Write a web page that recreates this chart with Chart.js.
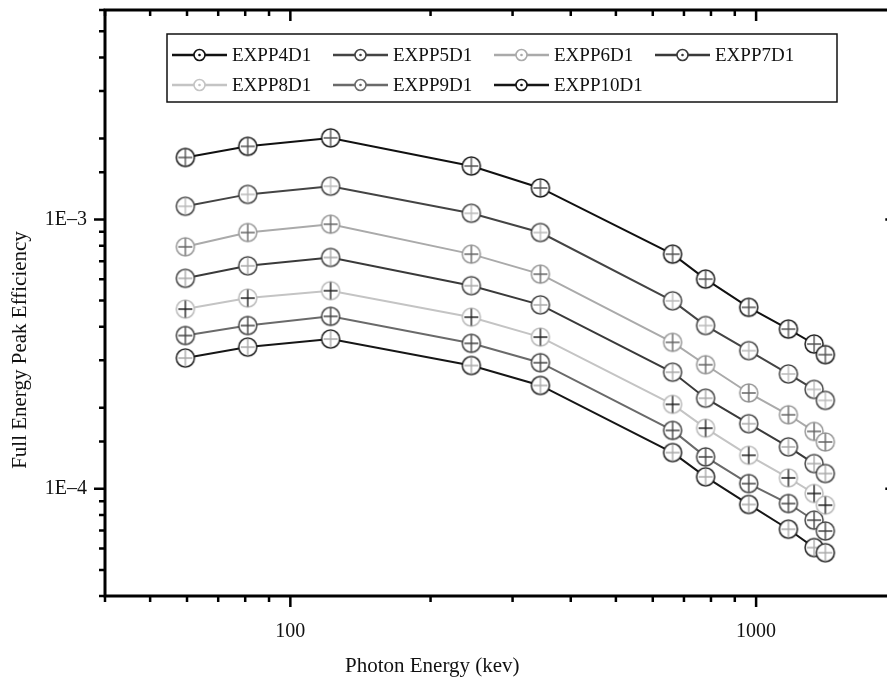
<!DOCTYPE html>
<html>
<head>
<meta charset="utf-8">
<script src="https://cdn.jsdelivr.net/npm/chart.js@4/dist/chart.umd.min.js"></script>
<style>
  html, body { margin: 0; padding: 0; background: #fff; overflow: hidden; }
  #wrap { width: 887px; height: 678px; }
</style>
</head>
<body>
<div id="wrap"><canvas id="myChart" width="887" height="678"></canvas></div>
<script>
/* photon energies (keV) */
let energy = [59.5, 81, 122, 244.7, 344.3, 661.7, 779, 964, 1173, 1332, 1408];

/* full energy peak efficiency, one array per detector position */
let EXPP4D1 = [1.70e-3, 1.87e-3, 2.01e-3, 1.58e-3, 1.31e-3, 7.44e-4, 6.01e-4, 4.72e-4, 3.92e-4, 3.45e-4, 3.15e-4];
let EXPP5D1 = [1.12e-3, 1.24e-3, 1.33e-3, 1.055e-3, 8.95e-4, 4.99e-4, 4.04e-4, 3.26e-4, 2.67e-4, 2.34e-4, 2.13e-4];
let EXPP6D1 = [7.92e-4, 8.95e-4, 9.61e-4, 7.44e-4, 6.27e-4, 3.50e-4, 2.89e-4, 2.27e-4, 1.884e-4, 1.634e-4, 1.493e-4];
let EXPP7D1 = [6.05e-4, 6.73e-4, 7.23e-4, 5.68e-4, 4.82e-4, 2.71e-4, 2.17e-4, 1.745e-4, 1.431e-4, 1.241e-4, 1.14e-4];
let EXPP8D1 = [4.65e-4, 5.11e-4, 5.44e-4, 4.34e-4, 3.66e-4, 2.06e-4, 1.68e-4, 1.332e-4, 1.098e-4, 9.61e-5, 8.70e-5];
let EXPP9D1 = [3.71e-4, 4.04e-4, 4.37e-4, 3.47e-4, 2.94e-4, 1.648e-4, 1.314e-4, 1.046e-4, 8.82e-5, 7.65e-5, 6.97e-5];
let EXPP10D1 = [3.06e-4, 3.36e-4, 3.60e-4, 2.87e-4, 2.42e-4, 1.363e-4, 1.108e-4, 8.75e-5, 7.08e-5, 6.05e-5, 5.79e-5];

let names = ['EXPP4D1', 'EXPP5D1', 'EXPP6D1', 'EXPP7D1', 'EXPP8D1', 'EXPP9D1', 'EXPP10D1'];
let values = [EXPP4D1, EXPP5D1, EXPP6D1, EXPP7D1, EXPP8D1, EXPP9D1, EXPP10D1];

/* line colour, circle colour, cross colour */
let lineColors = ['#111111', '#444444', '#aaaaaa', '#3a3a3a', '#c4c4c4', '#6a6a6a', '#161616'];
let ringColors = ['#1a1a1a', '#444444', '#999999', '#444444', '#bbbbbb', '#444444', '#222222'];
let crossColors = ['#555555', '#bbbbbb', '#666666', '#aaaaaa', '#222222', '#444444', '#aaaaaa'];

var FONT = "'Liberation Serif', 'Times New Roman', serif";

function marker(ring, cross) {
  var c = document.createElement('canvas');
  c.width = 22;
  c.height = 22;
  var g = c.getContext('2d');
  g.beginPath();
  g.arc(11, 11, 9, 0, Math.PI * 2);
  g.fillStyle = '#fff';
  g.fill();
  g.lineWidth = 1.5;
  g.strokeStyle = ring;
  g.stroke();
  g.beginPath();
  g.moveTo(11, 2.5);
  g.lineTo(11, 19.5);
  g.moveTo(4, 11);
  g.lineTo(18, 11);
  g.lineWidth = 1.4;
  g.strokeStyle = cross;
  g.stroke();
  return c;
}

function isDecade(v) {
  var e = Math.log10(v);
  return Math.abs(e - Math.round(e)) < 1e-6;
}

// 1..9 times a power of ten
function isNice(v) {
  var m = v / Math.pow(10, Math.floor(Math.log10(v) + 1e-9));
  return Math.abs(m - Math.round(m)) < 1e-6;
}

let datasets = names.map(function (n, i) {
  return {
    label: n,
    data: energy.map(function (e, j) { return { x: e, y: values[i][j] }; }),
    borderColor: lineColors[i],
    borderWidth: 2,
    tension: 0,
    pointStyle: marker(ringColors[i], crossColors[i]),
    pointRadius: 9,
  };
});

/* frame, ticks, boxed legend and axis titles */
var decorations = {
  id: 'decorations',
  afterDatasetsDraw: function (chart) {
    var ctx = chart.ctx;
    var a = chart.chartArea;
    var x = chart.scales.x;
    var y = chart.scales.y;
    // the right side of the frame sits just past the picture edge
    var rx = x.getPixelForValue(2000);
    ctx.save();

    ctx.strokeStyle = '#000';
    ctx.lineWidth = 3;
    ctx.beginPath();
    ctx.moveTo(rx, a.top);
    ctx.lineTo(a.left, a.top);
    ctx.lineTo(a.left, a.bottom);
    ctx.lineTo(rx, a.bottom);
    ctx.lineTo(rx, a.top);
    ctx.stroke();

    ctx.lineWidth = 2.5;
    ctx.beginPath();
    x.ticks.forEach(function (t) {
      if (!isNice(t.value)) return;
      var px = x.getPixelForValue(t.value);
      var len = isDecade(t.value) ? 11 : 6;
      ctx.moveTo(px, a.bottom);
      ctx.lineTo(px, a.bottom + len);
      ctx.moveTo(px, a.top);
      ctx.lineTo(px, a.top + len);
    });
    y.ticks.forEach(function (t) {
      var py = y.getPixelForValue(t.value);
      var len = isDecade(t.value) ? 11 : 6;
      ctx.moveTo(a.left - len, py);
      ctx.lineTo(a.left, py);
      ctx.moveTo(rx - len, py);
      ctx.lineTo(rx, py);
    });
    ctx.stroke();

    // legend box
    var bx = 167, by = 34, bw = 670, bh = 68;
    ctx.fillStyle = '#fff';
    ctx.fillRect(bx, by, bw, bh);
    ctx.lineWidth = 1.5;
    ctx.strokeStyle = '#111';
    ctx.strokeRect(bx, by, bw, bh);
    ctx.font = '19px ' + FONT;
    ctx.textBaseline = 'middle';
    ctx.textAlign = 'left';
    chart.data.datasets.forEach(function (ds, i) {
      var sx = 172 + (i % 4) * 161;
      var sy = i < 4 ? 55 : 85;
      ctx.beginPath();
      ctx.moveTo(sx, sy);
      ctx.lineTo(sx + 55, sy);
      ctx.lineWidth = 2.5;
      ctx.strokeStyle = lineColors[i];
      ctx.stroke();
      ctx.beginPath();
      ctx.arc(sx + 27.5, sy, 5.5, 0, Math.PI * 2);
      ctx.fillStyle = '#fff';
      ctx.fill();
      ctx.lineWidth = 1.6;
      ctx.stroke();
      ctx.beginPath();
      ctx.arc(sx + 27.5, sy, 1.3, 0, Math.PI * 2);
      ctx.fillStyle = lineColors[i];
      ctx.fill();
      ctx.fillStyle = '#111';
      ctx.fillText(ds.label, sx + 60, sy + 1);
    });

    // axis titles
    ctx.font = '21px ' + FONT;
    ctx.fillStyle = '#111';
    ctx.fillText('Photon Energy (kev)', 345, 666);
    ctx.translate(20, 350);
    ctx.rotate(-Math.PI / 2);
    ctx.textAlign = 'center';
    ctx.fillText('Full Energy Peak Efficiency', 0, 0);
    ctx.restore();
  },
};

var ctx = document.getElementById('myChart');

var myChart = new Chart(ctx, {
  type: 'line',
  data: { datasets: datasets },
  options: {
    responsive: false,
    animation: false,
    devicePixelRatio: 1,
    layout: { autoPadding: false, padding: { left: 0, top: 10, right: 0, bottom: 0 } },
    plugins: {
      legend: { display: false },
      tooltip: { enabled: false },
    },
    scales: {
      x: {
        type: 'logarithmic',
        min: 40,
        max: 1910,
        grid: { display: false },
        border: { display: false },
        ticks: {
          autoSkip: false,
          maxRotation: 0,
          padding: 16,
          color: '#111',
          font: { family: FONT, size: 20 },
          callback: function (v) { return isDecade(v) ? String(Math.round(v)) : ''; },
        },
        afterFit: function (s) {
          s.height = 82;
          s.paddingLeft = 0;
          s.paddingRight = 0;
        },
      },
      y: {
        type: 'logarithmic',
        min: 4e-5,
        max: 6e-3,
        grid: { display: false },
        border: { display: false },
        ticks: {
          autoSkip: false,
          padding: 10,
          color: '#111',
          font: { family: FONT, size: 20 },
          callback: function (v) {
            return isDecade(v) ? '1E\u2013' + (-Math.round(Math.log10(v))) : '';
          },
        },
        afterFit: function (s) {
          s.width = 105;
          s.paddingTop = 0;
          s.paddingBottom = 0;
        },
      },
    },
  },
  plugins: [decorations],
});
</script>
</body>
</html>
